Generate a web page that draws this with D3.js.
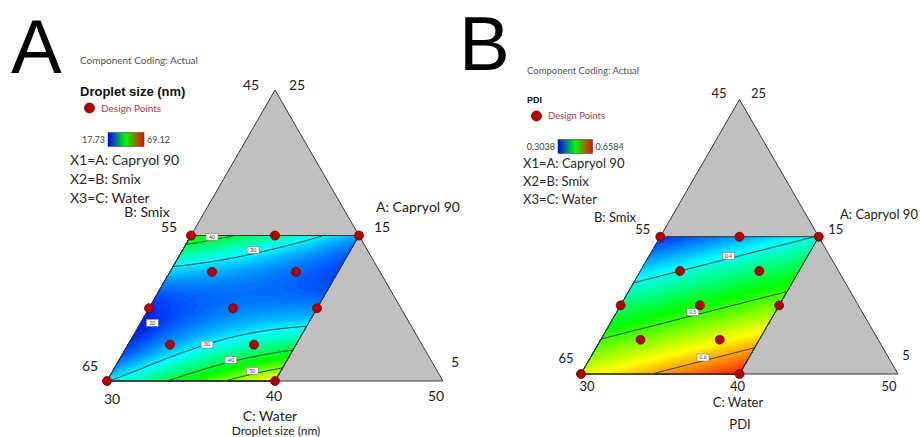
<!DOCTYPE html>
<html lang="en">
<head>
<meta charset="UTF-8">
<title>Ternary contour plots</title>
<script src="https://d3js.org/d3.v7.min.js"></script>
<style>
  body { margin: 0; background: #fff; }
  svg { display: block; font-family: "Lato", "Open Sans", sans-serif; }
</style>
</head>
<body>
<div id="chart"></div>
<script>
// mixture components (actual units, A + B + C = 100)
var capryolRange = [5, 25];   // A: Capryol 90
var smixRange = [45, 65];     // B: Smix
var waterRange = [30, 50];    // C: Water

// constrained design region
var regionCapryol = [5, 15];
var regionWater = [30, 40];

// design points as (A, C), B = 100 - A - C
var designCapryol = [15, 15, 15, 12.5, 12.5, 10, 10, 10, 7.5, 7.5, 5, 5];
var designWater   = [30, 35, 40, 32.5, 37.5, 30, 35, 40, 32.5, 37.5, 30, 40];

// fitted surfaces in coded u = (A-5)/10, v = (C-30)/10
var termNames = ["1", "u", "v", "u^2", "uv", "u(1-u)^2 v(1-v)"];
var dropletCoef = [29.65, -54.6, 29, 70, -48, 50];
var pdiCoef = [0.5624, -0.2445, 0.0844, 0, 0, 0];

var dropletRange = [17.73, 69.12];
var pdiRange = [0.3038, 0.6584];

var dropletLevels = [20, 30, 40, 50];
var pdiLevels = [0.4, 0.5, 0.6];

// contour label spots (A, C)
var dropletLabelCapryol = [14.9, 14.0, 9.0, 7.5, 6.45, 5.7];
var dropletLabelWater   = [31.3, 34.2, 30.7, 34.7, 36.65, 38.3];
var dropletLabelText    = ["40", "30", "20", "30", "40", "50"];
var pdiLabelCapryol = [13.6, 9.5, 6.2];
var pdiLabelWater   = [35, 34.8, 37.1];
var pdiLabelText    = ["0.4", "0.5", "0.6"];

// axis ticks
var capryolTicks = [25, 15, 5];
var smixTicks = [45, 55, 65];
var waterTicks = [30, 40, 50];

var paletteStops = [0, 0.25, 0.5, 0.75, 1];
var paletteColors = ["#0000ff", "#00ffff", "#00ff00", "#ffff00", "#ff0000"];

var width = 921, height = 437, N = 120;

var svg = d3.select("#chart").append("svg")
    .attr("width", width)
    .attr("height", height);

svg.append("rect").attr("width", width).attr("height", height).attr("fill", "#fff");

function terms(u, v) {
    return [1, u, v, u * u, u * v, u * (1 - u) * (1 - u) * v * (1 - v)];
}

function model(coef) {
    return function(u, v) {
        return d3.sum(terms(u, v), (t, i) => t * coef[i]);
    };
}

function drawPanel(p) {
    var aScale = d3.scaleLinear().domain(capryolRange).range([0, 1]);
    var cScale = d3.scaleLinear().domain(waterRange).range([0, 1]);
    var h = p.side * Math.sqrt(3) / 2;
    function pos(A, C) {
        var a = aScale(A), c = cScale(C);
        return [p.x0 + p.side * (c + a / 2), p.y0 - h * a];
    }
    var uScale = d3.scaleLinear().domain([0, N]).range(regionCapryol);
    var vScale = d3.scaleLinear().domain([0, N]).range(regionWater);

    var g = svg.append("g");

    // whole simplex
    var tri = [pos(capryolRange[0], waterRange[0]), pos(capryolRange[0], waterRange[1]), pos(capryolRange[1], waterRange[0])];
    g.append("path")
        .attr("d", d3.line()(tri) + "Z")
        .attr("fill", "#c0c0c0")
        .attr("stroke", "#3a3a3a")
        .attr("stroke-width", 1);

    // response grid
    var f = model(p.coef);
    var values = new Array(N * N);
    for (var j = 0; j < N; j++) {
        for (var i = 0; i < N; i++) {
            values[i + j * N] = f((j + 0.5) / N, (i + 0.5) / N);
        }
    }

    var proj = d3.geoTransform({
        point: function(x, y) {
            var q = pos(uScale(y), vScale(x));
            this.stream.point(q[0], q[1]);
        }
    });
    var path = d3.geoPath(proj);

    var color = d3.scaleLinear()
        .domain(paletteStops.map(t => p.range[0] + t * (p.range[1] - p.range[0])))
        .range(paletteColors)
        .clamp(true);

    var ext = d3.extent(values);
    var steps = 90;
    var thresholds = d3.range(steps).map(k => ext[0] - 1e-9 + (ext[1] - ext[0]) * k / steps);
    var step = (ext[1] - ext[0]) / steps;

    g.selectAll("path.band")
        .data(d3.contours().size([N, N]).thresholds(thresholds)(values))
        .join("path")
        .attr("class", "band")
        .attr("d", path)
        .attr("fill", d => color(d.value + step / 2))
        .attr("stroke", d => color(d.value + step / 2))
        .attr("stroke-width", 0.3);

    // contour lines
    g.selectAll("path.level")
        .data(d3.contours().size([N, N]).thresholds(p.levels)(values))
        .join("path")
        .attr("class", "level")
        .attr("d", path)
        .attr("fill", "none")
        .attr("stroke", "#1e2a1e")
        .attr("stroke-width", 0.9);

    // region outline
    var region = [pos(regionCapryol[0], regionWater[0]), pos(regionCapryol[0], regionWater[1]),
                  pos(regionCapryol[1], regionWater[1]), pos(regionCapryol[1], regionWater[0])];
    g.append("path")
        .attr("d", d3.line()(region) + "Z")
        .attr("fill", "none")
        .attr("stroke", "#3a3a3a")
        .attr("stroke-width", 1);

    // contour labels
    p.labelA.forEach((A, k) => {
        var q = pos(A, p.labelC[k]);
        var lg = g.append("g").attr("transform", `translate(${q[0]},${q[1]})`);
        lg.append("rect")
            .attr("x", -6).attr("y", -3.5).attr("width", 12).attr("height", 7)
            .attr("fill", "#fff").attr("stroke", "#777").attr("stroke-width", 0.6);
        lg.append("text")
            .attr("text-anchor", "middle").attr("dy", "0.35em")
            .style("font-size", "5px").style("fill", "#333")
            .text(p.labelText[k]);
    });

    // design points
    designCapryol.forEach((A, k) => {
        var q = pos(A, designWater[k]);
        g.append("circle")
            .attr("cx", q[0]).attr("cy", q[1]).attr("r", 4.5)
            .attr("fill", "#b40000").attr("stroke", "#700000").attr("stroke-width", 0.8);
    });

    // ticks
    function tick(txt, q, off) {
        g.append("text")
            .attr("x", q[0] + off[0]).attr("y", q[1] + off[1])
            .attr("text-anchor", "middle").attr("dy", "0.35em")
            .style("font-size", p.tickSize + "px").style("fill", "#222")
            .text(txt);
    }
    // B ticks along the left edge (C = 30)
    smixTicks.forEach((B, k) => tick(B, pos(100 - B - waterRange[0], waterRange[0]), p.smixOff[k]));
    // A ticks along the right edge (B = 45)
    capryolTicks.forEach((A, k) => tick(A, pos(A, 100 - smixRange[0] - A), p.capryolOff[k]));
    // C ticks along the bottom (A = 5)
    waterTicks.forEach((C, k) => tick(C, pos(capryolRange[0], C), p.waterOff[k]));

    // axis titles
    p.titles.forEach(t => {
        g.append("text")
            .attr("x", t[1]).attr("y", t[2])
            .attr("text-anchor", "middle").attr("dy", "0.35em")
            .style("font-size", t[3] + "px").style("fill", "#222")
            .text(t[0]);
    });

    // legend block
    var L = p.legend;
    g.append("text").attr("x", L.x - 1).attr("y", L.letterY)
        .style("font-family", "'Liberation Sans', Arial, sans-serif")
        .style("font-size", "76px").style("fill", "#000")
        .text(p.letter);
    g.append("text").attr("x", L.x + L.dx).attr("y", L.codingY).attr("dy", "0.35em")
        .style("font-size", L.smallSize + "px").style("fill", "#555")
        .text("Component Coding: Actual");
    g.append("text").attr("x", L.x + L.dx).attr("y", L.titleY).attr("dy", "0.35em")
        .style("font-family", "'Liberation Sans', Arial, sans-serif")
        .style("font-size", L.titleSize + "px").style("font-weight", "bold").style("fill", "#111")
        .text(p.response);
    g.append("circle").attr("cx", L.x + L.dx + 9.5).attr("cy", L.pointsY).attr("r", 5)
        .attr("fill", "#b40000").attr("stroke", "#700000").attr("stroke-width", 0.8);
    g.append("text").attr("x", L.x + L.dx + 21).attr("y", L.pointsY).attr("dy", "0.35em")
        .style("font-size", L.smallSize + "px").style("fill", "#c0394a")
        .text("Design Points");

    var gid = "grad" + p.letter;
    var grad = svg.append("defs").append("linearGradient").attr("id", gid);
    grad.selectAll("stop")
        .data(["#0000ff", "#00ff00", "#ff0000"])
        .join("stop")
        .attr("offset", (d, i) => (i * 50) + "%")
        .attr("stop-color", d => d);
    g.append("rect").attr("x", L.gx).attr("y", L.gy - 7).attr("width", L.gw).attr("height", 14)
        .attr("fill", `url(#${gid})`).attr("stroke", "#333").attr("stroke-width", 0.5);
    g.append("text").attr("x", L.gx - 3).attr("y", L.gy).attr("dy", "0.35em")
        .attr("text-anchor", "end").style("font-size", "9px").style("fill", "#444")
        .text(p.rangeText[0]);
    g.append("text").attr("x", L.gx + L.gw + 3).attr("y", L.gy).attr("dy", "0.35em")
        .style("font-size", "9px").style("fill", "#444")
        .text(p.rangeText[1]);

    ["X1=A: Capryol 90", "X2=B: Smix", "X3=C: Water"].forEach((t, k) => {
        g.append("text").attr("x", L.xx).attr("y", L.xy[k]).attr("dy", "0.35em")
            .style("font-size", L.xSize + "px").style("fill", "#2a2a2a")
            .text(t);
    });
}

drawPanel({
    letter: "A", response: "Droplet size (nm)",
    x0: 107, y0: 381, side: 336,
    coef: dropletCoef, range: dropletRange, rangeText: ["17.73", "69.12"],
    levels: dropletLevels,
    labelA: dropletLabelCapryol, labelC: dropletLabelWater, labelText: dropletLabelText,
    tickSize: 14,
    smixOff: [[-24, -5], [-22, -8], [-17, -15]],
    capryolOff: [[22, -5], [23, -8], [12, -19]],
    waterOff: [[5, 18], [-1, 15], [-7, 15]],
    titles: [["A: Capryol 90", 418, 207, 14], ["B: Smix", 147, 212, 14],
             ["C: Water", 270, 416, 14], ["Droplet size (nm)", 276, 431, 12]],
    legend: { x: 12, letterY: 73, dx: 68, codingY: 60, titleY: 91, titleSize: 13, pointsY: 108,
              smallSize: 10,
              gx: 108, gy: 139.5, gw: 36, xx: 70, xy: [160, 179.5, 198], xSize: 14 }
});

drawPanel({
    letter: "B", response: "PDI",
    x0: 581, y0: 374, side: 317,
    coef: pdiCoef, range: pdiRange, rangeText: ["0.3038", "0.6584"],
    levels: pdiLevels,
    labelA: pdiLabelCapryol, labelC: pdiLabelWater, labelText: pdiLabelText,
    tickSize: 13,
    smixOff: [[-20.5, -6], [-17.5, -7], [-15, -16]],
    capryolOff: [[19, -6], [17, -7], [8, -19]],
    waterOff: [[6, 12], [-2, 12], [-9, 12]],
    titles: [["A: Capryol 90", 879, 214, 13], ["B: Smix", 615, 217, 13],
             ["C: Water", 738, 402.5, 13], ["PDI", 740, 424, 13]],
    legend: { x: 460, letterY: 70, dx: 67, codingY: 71, titleY: 100, titleSize: 9, pointsY: 116,
              smallSize: 9.5,
              gx: 558, gy: 146.5, gw: 34.5, xx: 523, xy: [163, 181.5, 199], xSize: 13 }
});
</script>
</body>
</html>
